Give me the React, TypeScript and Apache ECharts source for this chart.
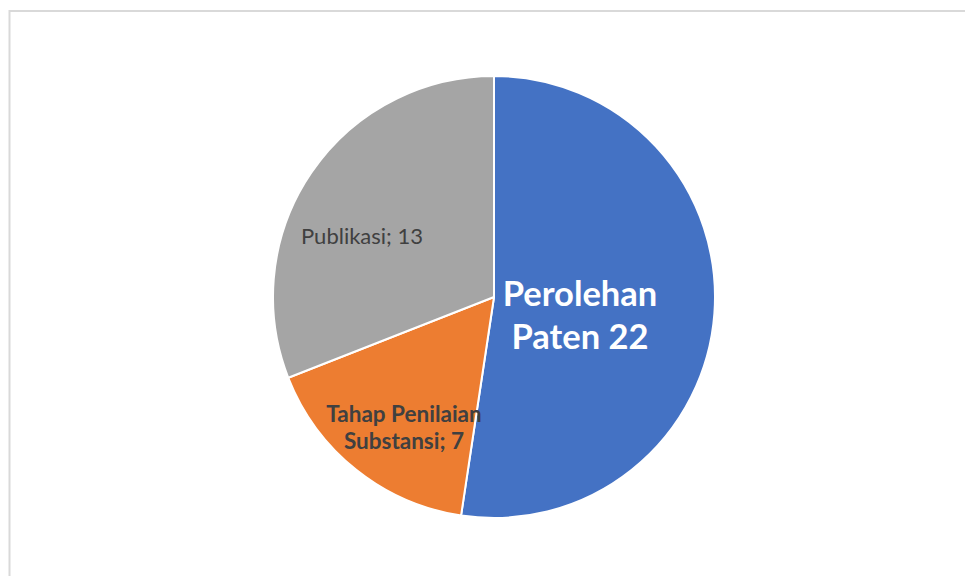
import React, { useEffect, useRef } from "react";
import * as echarts from "echarts";

const categories = ["Perolehan Paten", "Tahap Penilaian Substansi", "Publikasi"];
const values = [22, 7, 13];
const labelTexts = ["Perolehan\nPaten 22", "Tahap Penilaian\nSubstansi; 7", "Publikasi; 13"];
const colors = ["#4472C4", "#ED7D31", "#A5A5A5"];
const labelPositions = [
  [580, 314],
  [404, 427],
  [362, 235],
];

export default function App() {
  const ref = useRef<HTMLDivElement>(null);
  useEffect(() => {
    document.body.style.margin = "0";
    const chart = echarts.init(ref.current!, undefined, { renderer: "svg" });
    const labelStyles = [
      { color: "#FFFFFF", fontSize: 34.5, fontWeight: "bold", lineHeight: 43.5 },
      { color: "#404040", fontSize: 22.5, fontWeight: "bold", lineHeight: 26.5 },
      { color: "#404040", fontSize: 22, fontWeight: "normal", lineHeight: 24 },
    ];
    chart.setOption({
      animation: false,
      backgroundColor: "#FFFFFF",
      graphic: [
        {
          type: "rect",
          shape: { x: 9.5, y: 11, width: 1000, height: 1000 },
          style: { fill: "none", stroke: "#D9D9D9", lineWidth: 2 },
          silent: true,
        },
      ],
      series: [
        {
          type: "pie",
          center: [494, 297],
          radius: [0, 221],
          startAngle: 90,
          clockwise: true,
          avoidLabelOverlap: false,
          itemStyle: { borderColor: "#FFFFFF", borderWidth: 2 },
          label: {
            show: true,
            position: "inside",
            fontFamily: "Lato, 'Open Sans', sans-serif",
            align: "center",
          },
          labelLine: { show: false },
          labelLayout: (params: any) => ({
            x: labelPositions[params.dataIndex][0],
            y: labelPositions[params.dataIndex][1],
            align: "center",
            verticalAlign: "middle",
          }),
          emphasis: { disabled: true },
          data: categories.map((name, i) => ({
            name,
            value: values[i],
            itemStyle: { color: colors[i] },
            label: { ...labelStyles[i], formatter: labelTexts[i] },
          })),
        },
      ],
    });
    return () => chart.dispose();
  }, []);
  return (
    <div
      ref={ref}
      style={{ position: "fixed", left: 0, top: 0, width: 965, height: 576 }}
    />
  );
}
